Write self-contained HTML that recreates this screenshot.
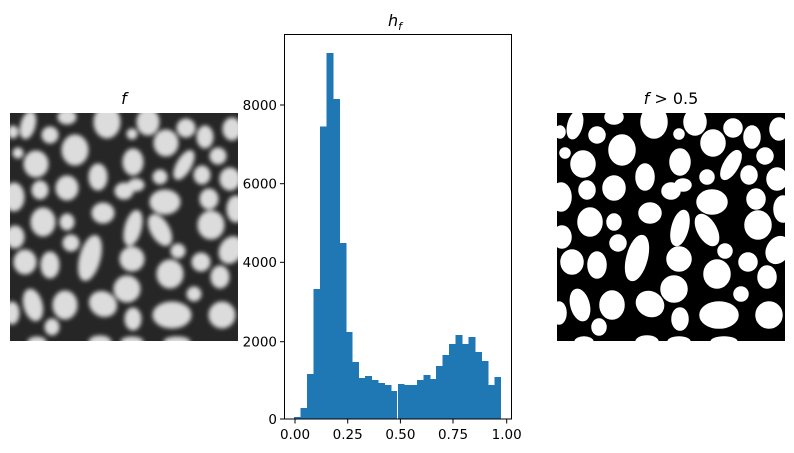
<!DOCTYPE html>
<html><head><meta charset="utf-8"><style>
html,body{margin:0;padding:0;background:#fff;}
svg{display:block;font-family:"DejaVu Sans","Liberation Sans",sans-serif;}
</style></head><body>
<svg width="794" height="453" viewBox="0 0 794 453" xmlns="http://www.w3.org/2000/svg">
<defs>
<g id="blobs">
<ellipse cx="18" cy="12" rx="6" ry="13" transform="rotate(15 18 12)"/>
<ellipse cx="40" cy="22" rx="7" ry="7"/>
<ellipse cx="57" cy="4" rx="8" ry="6"/>
<ellipse cx="97" cy="9" rx="12" ry="15"/>
<ellipse cx="122" cy="21" rx="4" ry="4"/>
<ellipse cx="138" cy="9" rx="10" ry="12"/>
<ellipse cx="176" cy="15" rx="8" ry="8"/>
<ellipse cx="195" cy="24" rx="7" ry="10"/>
<ellipse cx="222" cy="16" rx="8" ry="10"/>
<ellipse cx="156" cy="30" rx="11" ry="12"/>
<ellipse cx="3" cy="19" rx="4" ry="5"/>
<ellipse cx="8" cy="40" rx="4" ry="4"/>
<ellipse cx="26" cy="51" rx="11" ry="12"/>
<ellipse cx="65" cy="37" rx="12" ry="14"/>
<ellipse cx="123" cy="49" rx="9" ry="12"/>
<ellipse cx="174" cy="52" rx="6" ry="15" transform="rotate(30 174 52)"/>
<ellipse cx="208" cy="43" rx="7" ry="7"/>
<ellipse cx="150" cy="64" rx="6" ry="6"/>
<ellipse cx="192" cy="62" rx="7" ry="8"/>
<ellipse cx="220" cy="66" rx="9" ry="10"/>
<ellipse cx="88" cy="64" rx="8" ry="12"/>
<ellipse cx="30" cy="77" rx="7" ry="8"/>
<ellipse cx="57" cy="75" rx="10" ry="11"/>
<ellipse cx="114" cy="78" rx="8" ry="7"/>
<ellipse cx="126" cy="72" rx="7" ry="5"/>
<ellipse cx="155" cy="89" rx="14" ry="11"/>
<ellipse cx="199" cy="86" rx="8" ry="9"/>
<ellipse cx="4" cy="84" rx="9" ry="13"/>
<ellipse cx="226" cy="96" rx="8" ry="12"/>
<ellipse cx="93" cy="100" rx="10" ry="9"/>
<ellipse cx="33" cy="109" rx="11" ry="13"/>
<ellipse cx="57" cy="109" rx="6" ry="7"/>
<ellipse cx="123" cy="115" rx="7" ry="17" transform="rotate(15 123 115)"/>
<ellipse cx="150" cy="117" rx="8" ry="16" transform="rotate(-30 150 117)"/>
<ellipse cx="201" cy="112" rx="12" ry="13"/>
<ellipse cx="5" cy="124" rx="8" ry="10"/>
<ellipse cx="61" cy="130" rx="7" ry="7"/>
<ellipse cx="80" cy="145" rx="9" ry="22" transform="rotate(15 80 145)"/>
<ellipse cx="122" cy="146" rx="11" ry="11"/>
<ellipse cx="168" cy="138" rx="6" ry="6"/>
<ellipse cx="191" cy="149" rx="8" ry="8"/>
<ellipse cx="221" cy="137" rx="10" ry="13" transform="rotate(30 221 137)"/>
<ellipse cx="15" cy="149" rx="10" ry="11"/>
<ellipse cx="40" cy="152" rx="8" ry="12"/>
<ellipse cx="160" cy="161" rx="12" ry="13"/>
<ellipse cx="117" cy="176" rx="12" ry="12"/>
<ellipse cx="210" cy="164" rx="8" ry="10"/>
<ellipse cx="184" cy="181" rx="6" ry="6"/>
<ellipse cx="23" cy="192" rx="8" ry="15" transform="rotate(-15 23 192)"/>
<ellipse cx="55" cy="192" rx="11" ry="13"/>
<ellipse cx="93" cy="191" rx="13" ry="11" transform="rotate(30 93 191)"/>
<ellipse cx="162" cy="202" rx="18" ry="12"/>
<ellipse cx="212" cy="202" rx="12" ry="12"/>
<ellipse cx="123" cy="206" rx="7" ry="10"/>
<ellipse cx="42" cy="214" rx="6" ry="7"/>
<ellipse cx="2" cy="200" rx="6" ry="10"/>
<ellipse cx="90" cy="229" rx="10" ry="5"/>
<ellipse cx="122" cy="229" rx="10" ry="4"/>
<ellipse cx="167" cy="229" rx="12" ry="4"/>
<ellipse cx="27" cy="229" rx="8" ry="4"/>
</g>
<filter id="bl" x="-10%" y="-10%" width="120%" height="120%"><feGaussianBlur stdDeviation="2"/></filter>
<clipPath id="c1"><rect x="0" y="0" width="228" height="228"/></clipPath>
</defs>

<g transform="translate(10,113)" clip-path="url(#c1)">
<rect width="228" height="228" fill="#262626"/>
<g fill="#dcdcdc" stroke="#dcdcdc" stroke-width="3" filter="url(#bl)"><use href="#blobs"/></g>
</g>
<text x="124" y="104" font-size="16" font-style="italic" text-anchor="middle">f</text>

<g transform="translate(557,113)" clip-path="url(#c1)">
<rect width="228" height="228" fill="#000"/>
<g fill="#fff" stroke="#fff" stroke-width="3.5"><use href="#blobs"/></g>
</g>
<text x="671" y="104" font-size="16" text-anchor="middle"><tspan font-style="italic">f</tspan> &gt; 0.5</text>

<g fill="#1f77b4" shape-rendering="crispEdges">
<rect x="294" y="417" width="7" height="2"/>
<rect x="300.5" y="408" width="7" height="11"/>
<rect x="307" y="374" width="7" height="45"/>
<rect x="313.4" y="289" width="7" height="130"/>
<rect x="319.9" y="126.3" width="7" height="292.7"/>
<rect x="326.3" y="53" width="7" height="366"/>
<rect x="332.8" y="99" width="7" height="320"/>
<rect x="339.3" y="243" width="7" height="176"/>
<rect x="345.7" y="332" width="7" height="87"/>
<rect x="352.2" y="362" width="7" height="57"/>
<rect x="358.7" y="378" width="7" height="41"/>
<rect x="365.1" y="376" width="7" height="43"/>
<rect x="371.6" y="380" width="7" height="39"/>
<rect x="378.1" y="383" width="7" height="36"/>
<rect x="384.5" y="385" width="7" height="34"/>
<rect x="391" y="391" width="6" height="28"/>
<rect x="398" y="384" width="6.5" height="35"/>
<rect x="403.9" y="385" width="7" height="34"/>
<rect x="410.4" y="385" width="7" height="34"/>
<rect x="416.8" y="380" width="7" height="39"/>
<rect x="423.3" y="375" width="7" height="44"/>
<rect x="429.8" y="379" width="7" height="40"/>
<rect x="436.2" y="366" width="7" height="53"/>
<rect x="442.7" y="355" width="7" height="64"/>
<rect x="449.2" y="344" width="7" height="75"/>
<rect x="455.6" y="335" width="7" height="84"/>
<rect x="462.1" y="344" width="7" height="75"/>
<rect x="468.6" y="337" width="7" height="82"/>
<rect x="475" y="352" width="7" height="67"/>
<rect x="481.5" y="361" width="7" height="58"/>
<rect x="488" y="385" width="7" height="34"/>
<rect x="494.4" y="377" width="6.6" height="42"/>
</g>
<rect x="284.5" y="34.5" width="227" height="384.5" fill="none" stroke="#000" stroke-width="1"/>
<g stroke="#000" stroke-width="1">
<line x1="280" y1="419" x2="284.5" y2="419"/>
<line x1="280" y1="341.7" x2="284.5" y2="341.7"/>
<line x1="280" y1="262.3" x2="284.5" y2="262.3"/>
<line x1="280" y1="183.7" x2="284.5" y2="183.7"/>
<line x1="280" y1="105" x2="284.5" y2="105"/>
<line x1="295" y1="419" x2="295" y2="423.5"/>
<line x1="347.7" y1="419" x2="347.7" y2="423.5"/>
<line x1="400.4" y1="419" x2="400.4" y2="423.5"/>
<line x1="453" y1="419" x2="453" y2="423.5"/>
<line x1="506.7" y1="419" x2="506.7" y2="423.5"/>
</g>
<g font-size="13.5" text-anchor="end">
<text x="277" y="424">0</text>
<text x="277" y="346.5">2000</text>
<text x="277" y="267">4000</text>
<text x="277" y="188.5">6000</text>
<text x="277" y="110">8000</text>
</g>
<g font-size="13.5" text-anchor="middle">
<text x="295" y="439">0.00</text>
<text x="347.7" y="439">0.25</text>
<text x="400.4" y="439">0.50</text>
<text x="453" y="439">0.75</text>
<text x="506.7" y="439">1.00</text>
</g>
<text x="395" y="26" font-size="16" font-style="italic" text-anchor="middle">h<tspan font-size="11" dy="4">f</tspan></text>
</svg>
</body></html>
